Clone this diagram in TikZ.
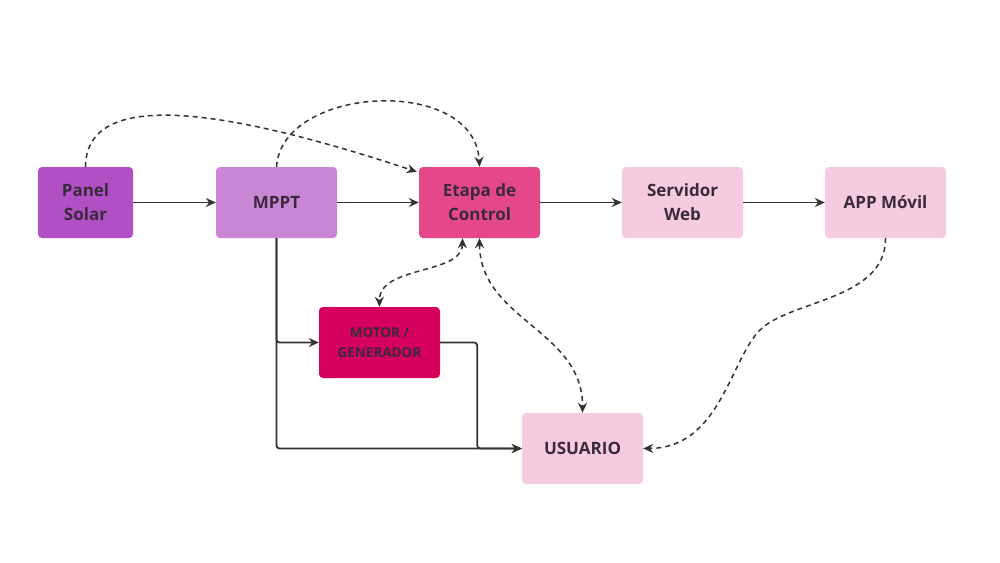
\documentclass[tikz,border=0pt]{standalone}
\usepackage{fontspec}
\setmainfont{Open Sans}
\usetikzlibrary{arrows.meta}
\definecolor{cpanel}{HTML}{B050C4}
\definecolor{cmppt}{HTML}{C886D5}
\definecolor{cetapa}{HTML}{E4488B}
\definecolor{cmotor}{HTML}{D6005E}
\definecolor{clight}{HTML}{F6CADF}
\definecolor{ctxt}{HTML}{3A2B3A}
\definecolor{cline}{HTML}{333333}
\begin{document}
\begin{tikzpicture}[x=1pt,y=-1pt,
  box/.style={rectangle, rounded corners=4pt, minimum height=71pt, minimum width=121pt,
    inner sep=0pt, align=center, font=\fontsize{17}{24}\selectfont\bfseries, text=ctxt},
  conn/.style={draw=cline, line width=1.8pt, -{Stealth[length=10pt,width=9pt]}},
  dconn/.style={conn, line width=1.5pt, dash pattern=on 5pt off 4pt}]
\fill[white] (0,0) rectangle (1000,562);
\useasboundingbox (0,0) rectangle (1000,562);

\node[box, fill=cpanel, minimum width=95pt] (panel) at (85.5,202.5) {Panel\\Solar};
\node[box, fill=cmppt] (mppt) at (276.5,202.5) {MPPT};
\node[box, fill=cetapa] (etapa) at (479.5,202.5) {Etapa de\\Control};
\node[box, fill=clight] (serv) at (682.5,202.5) {Servidor\\Web};
\node[box, fill=clight] (app) at (885.5,202.5) {APP Móvil};
\node[box, fill=cmotor, font=\fontsize{13.5}{20}\selectfont\bfseries] (motor) at (379.5,342.5) {MOTOR /\\GENERADOR};
\node[box, fill=clight] (usu) at (582.5,448.5) {USUARIO};

\draw[conn] (panel) -- (mppt);
\draw[conn] (mppt) -- (etapa);
\draw[conn] (etapa) -- (serv);
\draw[conn] (serv) -- (app);
\draw[conn, rounded corners=3pt] (mppt.south) |- (motor.west);
\draw[conn, rounded corners=3pt] (mppt.south) |- (usu.west);
\draw[conn, rounded corners=3pt] (motor.east) -- ++(37,0) |- (usu.west);

\draw[dconn] (panel.north) .. controls (86,95) and (200,100) .. ([xshift=-2pt,yshift=-5pt]etapa.north west);
\draw[dconn] (mppt.north) .. controls (282,85) and (475,75) .. (etapa.north);
\draw[dconn, {Stealth[length=10pt,width=9pt]}-{Stealth[length=10pt,width=9pt]}]
  ([xshift=-17pt]etapa.south) .. controls (462,275) and (379,265) .. (motor.north);
\draw[dconn, {Stealth[length=10pt,width=9pt]}-{Stealth[length=10pt,width=9pt]}]
  (etapa.south) .. controls (480,320) and (583,330) .. (usu.north);
\draw[dconn] (app.south) .. controls (886,300) and (790,300) .. (760,330)
  .. controls (730,360) and (720,448) .. (usu.east);
\end{tikzpicture}
\end{document}
